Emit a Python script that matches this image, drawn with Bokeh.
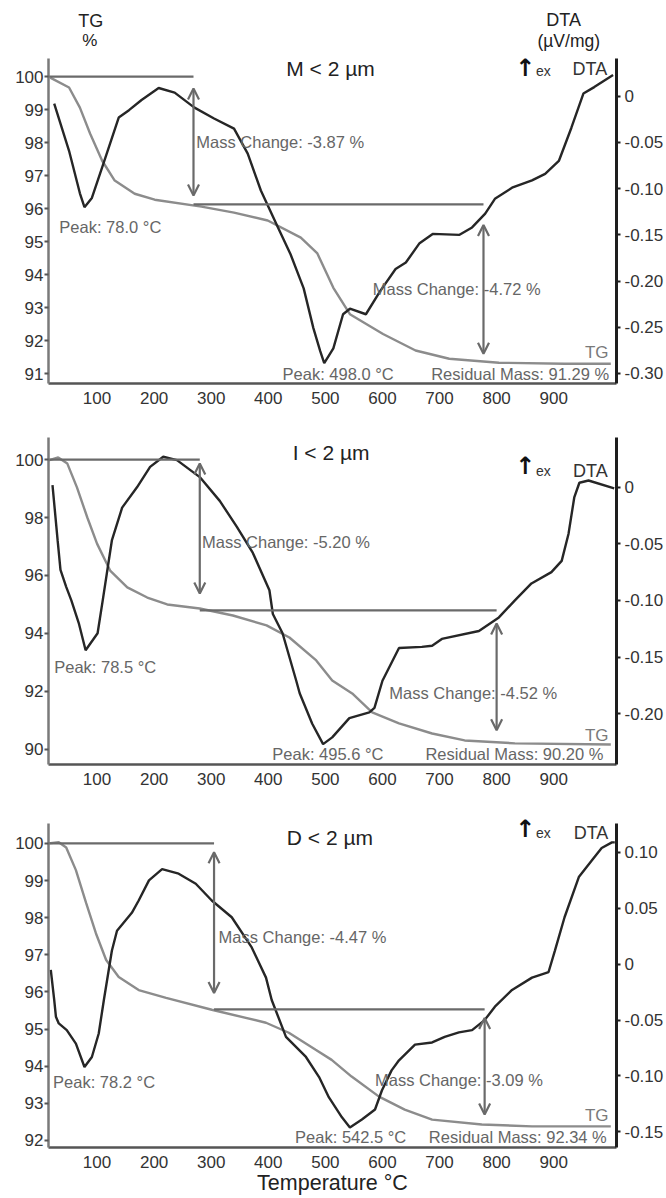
from bokeh.plotting import figure
from bokeh.models import Range1d, LinearAxis, FixedTicker, Label, Arrow, OpenHead
from bokeh.layouts import column
from bokeh.embed import file_html
from bokeh.resources import INLINE

FONT = "Liberation Sans"

# ---------------- data ----------------
# Sample M < 2 µm
M_TG_T = [18, 51, 70, 88, 109, 131, 166, 201, 283, 340, 399, 457, 486, 514, 543, 601, 658, 717, 804, 919, 1000]
M_TG = [99.97, 99.67, 99.06, 98.27, 97.45, 96.85, 96.45, 96.27, 96.06, 95.88, 95.64, 95.12, 94.64, 93.6, 92.8,
        92.2, 91.7, 91.45, 91.33, 91.3, 91.3]
M_DTA_T = [25, 51, 70, 78, 91, 109, 138, 156, 178, 208, 236, 270, 305, 340, 364, 387, 417, 439, 462, 479,
           491, 498, 514, 531, 543, 571, 596, 623, 641, 665, 688, 735, 757, 780, 797, 827, 862, 885, 909, 931,
           952, 971, 1004]
M_DTA = [-0.008, -0.059, -0.105, -0.120, -0.110, -0.077, -0.023, -0.015, -0.004, 0.009, 0.004, -0.012, -0.024,
         -0.035, -0.062, -0.102, -0.142, -0.171, -0.208, -0.251, -0.276, -0.289, -0.273, -0.236, -0.230, -0.236,
         -0.211, -0.187, -0.180, -0.159, -0.149, -0.150, -0.142, -0.127, -0.111, -0.099, -0.091, -0.084, -0.070,
         -0.034, 0.003, 0.010, 0.023]
M_CHANGES = [-3.87, -4.72]
M_PEAKS = [78.0, 498.0]
M_RESIDUAL = 91.29

# Sample I < 2 µm
I_TG_T = [15, 32, 48, 65, 83, 100, 123, 153, 188, 223, 280, 338, 397, 437, 484, 512, 547, 582, 629, 687, 744, 832, 1000]
I_TG = [99.97, 100.07, 99.86, 99.03, 98.0, 97.1, 96.17, 95.59, 95.24, 95.0, 94.86, 94.62, 94.28, 93.86, 93.07,
        92.38, 91.93, 91.28, 90.9, 90.55, 90.31, 90.21, 90.17]
I_DTA_T = [22, 31, 36, 46, 55, 68, 80, 101, 110, 126, 144, 170, 193, 216, 240, 280, 315, 345, 373, 402,
           408, 425, 449, 455, 477, 496, 512, 542, 577, 586, 600, 629, 669, 687, 704, 769, 804, 832, 861, 896,
           914, 926, 936, 945, 961, 1006]
I_DTA = [0.002, -0.047, -0.073, -0.088, -0.100, -0.120, -0.144, -0.129, -0.100, -0.047, -0.018, 0.0, 0.018,
         0.027, 0.024, 0.009, -0.012, -0.035, -0.058, -0.091, -0.112, -0.129, -0.171, -0.182, -0.209, -0.227,
         -0.221, -0.204, -0.199, -0.195, -0.171, -0.142, -0.141, -0.140, -0.134, -0.127, -0.115, -0.100, -0.085,
         -0.075, -0.065, -0.041, -0.009, 0.004, 0.006, -0.001]
I_CHANGES = [-5.20, -4.52]
I_PEAKS = [78.5, 495.6]
I_RESIDUAL = 90.20

# Sample D < 2 µm
D_TG_T = [15, 33, 46, 63, 81, 98, 116, 138, 173, 221, 301, 396, 436, 483, 511, 546, 594, 639, 687, 774, 862, 1000]
D_TG = [100.0, 100.03, 99.89, 99.28, 98.39, 97.58, 96.86, 96.40, 96.05, 95.84, 95.52, 95.17, 94.9, 94.44, 94.17,
        93.72, 93.18, 92.83, 92.56, 92.43, 92.38, 92.38]
D_DTA_T = [19, 25, 28, 33, 47, 63, 78, 91, 103, 112, 126, 135, 161, 173, 191, 214, 243, 273, 301, 336,
           371, 396, 406, 431, 466, 489, 506, 529, 543, 564, 587, 599, 616, 629, 657, 687, 709, 734, 757, 779,
           797, 827, 862, 891, 902, 919, 944, 967, 984, 1002, 1007]
D_DTA = [-0.005, -0.032, -0.047, -0.053, -0.059, -0.071, -0.092, -0.083, -0.062, -0.032, 0.012, 0.030, 0.046,
         0.057, 0.075, 0.085, 0.081, 0.072, 0.057, 0.042, 0.015, -0.012, -0.032, -0.065, -0.083, -0.101, -0.119,
         -0.137, -0.146, -0.139, -0.130, -0.113, -0.095, -0.086, -0.072, -0.070, -0.065, -0.061, -0.059, -0.050,
         -0.038, -0.023, -0.012, -0.007, 0.012, 0.042, 0.078, 0.093, 0.104, 0.109, 0.109]
D_CHANGES = [-4.47, -3.09]
D_PEAKS = [78.2, 542.5]
D_RESIDUAL = 92.34

X_TICKS = [100, 200, 300, 400, 500, 600, 700, 800, 900]
M_TG_TICKS = [91, 92, 93, 94, 95, 96, 97, 98, 99, 100]
I_TG_TICKS = [90, 92, 94, 96, 98, 100]
D_TG_TICKS = [92, 93, 94, 95, 96, 97, 98, 99, 100]
M_DTA_TICKS = [0, -0.05, -0.10, -0.15, -0.20, -0.25, -0.30]
M_DTA_LABELS = ["0", "-0.05", "-0.10", "-0.15", "-0.20", "-0.25", "-0.30"]
I_DTA_TICKS = [0, -0.05, -0.10, -0.15, -0.20]
I_DTA_LABELS = ["0", "-0.05", "-0.10", "-0.15", "-0.20"]
D_DTA_TICKS = [0.10, 0.05, 0, -0.05, -0.10, -0.15]
D_DTA_LABELS = ["0.10", "0.05", "0", "-0.05", "-0.10", "-0.15"]

GREY_TEXT = "#666666"
STEP_COLOR = "#6a6a6a"
TICK_FS = "17px"


def lab(p, x, y, text, size="16.5px", color=GREY_TEXT, align="left", style="normal", font=FONT,
        baseline="middle"):
    p.add_layout(Label(x=x, y=y, text=text, text_font=font, text_font_size=size, text_color=color,
                       text_align=align, text_baseline=baseline, text_font_style=style))


def panel(title, tg_T, tg, dta_T, dta, changes, peaks, residual, tg_ticks, dta_ticks, dta_labels, cfg,
          xlabel=None):
    p = figure(width=666, height=cfg["h"], x_range=Range1d(15, 1010), y_range=Range1d(*cfg["tg_range"]),
               output_backend="svg", toolbar_location=None, min_border_left=48, min_border_right=48,
               min_border_top=cfg["bt"], min_border_bottom=cfg["bb"])
    p.outline_line_color = None
    p.grid.visible = False
    p.extra_y_ranges = {"dta": Range1d(*cfg["dta_range"])}

    xa = p.xaxis[0]
    xa.ticker = FixedTicker(ticks=X_TICKS)
    xa.major_label_text_font = FONT
    xa.major_label_text_font_size = TICK_FS
    xa.major_label_text_color = "#333333"
    xa.axis_line_color = "#555555"
    xa.axis_line_width = 2.5
    xa.major_tick_out = 0
    xa.major_tick_in = 0
    xa.minor_tick_out = 0
    xa.minor_tick_in = 0
    xa.major_label_standoff = 8
    if xlabel:
        xa.axis_label = xlabel
        xa.axis_label_text_font = FONT
        xa.axis_label_text_font_size = "21.5px"
        xa.axis_label_text_font_style = "normal"
        xa.axis_label_text_color = "#222222"
        xa.axis_label_standoff = 0

    ya = p.yaxis[0]
    ya.ticker = FixedTicker(ticks=tg_ticks)
    ya.bounds = cfg["tg_bounds"]
    ya.major_label_text_font = FONT
    ya.major_label_text_font_size = TICK_FS
    ya.major_label_text_color = "#333333"
    ya.axis_line_color = "#7a7a7a"
    ya.axis_line_width = 2.5
    ya.major_tick_out = 4
    ya.major_tick_in = 0
    ya.major_tick_line_color = "#555555"
    ya.major_tick_line_width = 2
    ya.minor_tick_out = 0
    ya.minor_tick_in = 0
    ya.major_label_standoff = 1

    ra = LinearAxis(y_range_name="dta", ticker=FixedTicker(ticks=dta_ticks), bounds=cfg["dta_bounds"],
                    major_label_overrides={t: s for t, s in zip(dta_ticks, dta_labels)})
    ra.major_label_text_font = FONT
    ra.major_label_text_font_size = TICK_FS
    ra.major_label_text_color = "#333333"
    ra.axis_line_color = "#1e1e1e"
    ra.axis_line_width = 3
    ra.major_tick_out = 4
    ra.major_tick_in = 0
    ra.major_tick_line_color = "#1e1e1e"
    ra.major_tick_line_width = 2
    ra.minor_tick_out = 0
    ra.minor_tick_in = 0
    ra.major_label_standoff = 4
    p.add_layout(ra, "right")

    # curves
    p.line(tg_T, tg, line_color="#8c8c8c", line_width=2.4)
    p.line(dta_T, dta, y_range_name="dta", line_color="#262626", line_width=2.4)

    # mass-step lines and arrows
    lv0 = 100.0
    lv1 = lv0 + changes[0]
    lv2 = lv1 + changes[1]
    a1, a2 = cfg["arrow_x"]
    p.segment(x0=[15, a1], y0=[lv0, lv1], x1=[a1, a2], y1=[lv0, lv1], line_color=STEP_COLOR, line_width=2.2)
    pads = cfg["pads"]
    for ax_, hi, lo, (pt, pb) in [(a1, lv0, lv1, pads[0]), (a2, lv1, lv2, pads[1])]:
        p.add_layout(Arrow(x_start=ax_, y_start=lo + pb, x_end=ax_, y_end=hi - pt,
                           start=OpenHead(size=11, line_color=STEP_COLOR, line_width=2.2),
                           end=OpenHead(size=11, line_color=STEP_COLOR, line_width=2.2),
                           line_color=STEP_COLOR, line_width=2.2))

    L = cfg["labels"]
    lab(p, *L["title"], title, size="21px", color="#222222", align="center")
    lab(p, *L["arrow"], "\u2191", size="24px", color="#111111", align="center", style="bold", font="DejaVu Sans")
    lab(p, *L["ex"], "ex", size="14px", color="#333333")
    lab(p, *L["dta"], "DTA", size="18px", color="#333333")
    lab(p, *L["mc1"], "Mass Change: %.2f %%" % changes[0])
    lab(p, *L["mc2"], "Mass Change: %.2f %%" % changes[1])
    lab(p, *L["pk1"], "Peak: %.1f \u00b0C" % peaks[0])
    lab(p, *L["pk2"], "Peak: %.1f \u00b0C" % peaks[1])
    lab(p, *L["res"], "Residual Mass: %.2f %%" % residual, align="right")
    lab(p, *L["tg"], "TG", size="17px", color="#7a7a7a", align="right")
    return p


cfg_m = dict(h=356, bt=0, bb=27, tg_range=(90.7, 100.67), tg_bounds=(90.7, 100.55),
             dta_range=(-0.311, 0.0453), dta_bounds=(-0.311, 0.041),
             arrow_x=(269, 777), pads=[(0.36, 0.27), (0.63, 0.19)],
             labels=dict(title=(509, 100.24), arrow=(850, 100.26), ex=(869, 100.18), dta=(933, 100.24),
                         mc1=(274, 98.03), mc2=(583, 93.55), pk1=(34, 95.45), pk2=(425, 91.0), res=(997, 91.0),
                         tg=(996, 91.64)))
cfg_i = dict(h=385, bt=27, bb=31, tg_range=(89.48, 100.76), tg_bounds=(89.48, 100.76),
             dta_range=(-0.245, 0.044), dta_bounds=(-0.245, 0.044),
             arrow_x=(280, 800), pads=[(0.14, 0.58), (0.46, 0.38)],
             labels=dict(title=(510, 100.24), arrow=(850, 99.76), ex=(869, 99.59), dta=(934, 99.59),
                         mc1=(284, 97.14), mc2=(612, 91.93), pk1=(25, 92.83), pk2=(407, 89.83), res=(987, 89.83),
                         tg=(996, 90.48)))
cfg_d = dict(h=402, bt=10, bb=49, tg_range=(91.81, 101.02), tg_bounds=(91.81, 100.54),
             dta_range=(-0.164, 0.142), dta_bounds=(-0.164, 0.126),
             arrow_x=(305, 779), pads=[(0.24, 0.44), (0.23, 0.26)],
             labels=dict(title=(508, 100.16), arrow=(850, 100.38), ex=(869, 100.27), dta=(935, 100.27),
                         mc1=(313, 97.48), mc2=(587, 93.64), pk1=(23, 93.58), pk2=(447, 92.08), res=(993, 92.08),
                         tg=(996, 92.67)))

# header strip carrying the axis titles (coordinates in pixels of the strip)
head = figure(width=666, height=54, x_range=Range1d(0, 666), y_range=Range1d(54, 0),
              output_backend="svg", toolbar_location=None, x_axis_location=None, y_axis_location=None,
              min_border=0, min_border_left=0, min_border_right=0, min_border_top=0, min_border_bottom=0)
head.outline_line_color = None
head.grid.visible = False
lab(head, 49.5, 20, "TG", size="18px", color="#222222", align="center")
lab(head, 48.5, 40, "%", size="17px", color="#222222", align="center")
lab(head, 604, 19, "DTA", size="18px", color="#222222", align="center")
lab(head, 610, 40, "(\u00b5V/mg)", size="17.5px", color="#222222", align="center")

p1 = panel("M < 2 \u00b5m", M_TG_T, M_TG, M_DTA_T, M_DTA, M_CHANGES, M_PEAKS, M_RESIDUAL,
           M_TG_TICKS, M_DTA_TICKS, M_DTA_LABELS, cfg_m)
p2 = panel("I < 2 \u00b5m", I_TG_T, I_TG, I_DTA_T, I_DTA, I_CHANGES, I_PEAKS, I_RESIDUAL,
           I_TG_TICKS, I_DTA_TICKS, I_DTA_LABELS, cfg_i)
p3 = panel("D < 2 \u00b5m", D_TG_T, D_TG, D_DTA_T, D_DTA, D_CHANGES, D_PEAKS, D_RESIDUAL,
           D_TG_TICKS, D_DTA_TICKS, D_DTA_LABELS, cfg_d, xlabel="Temperature \u00b0C")

layout = column(head, p1, p2, p3, spacing=0)
open("out.html", "w").write(file_html(layout, INLINE))
